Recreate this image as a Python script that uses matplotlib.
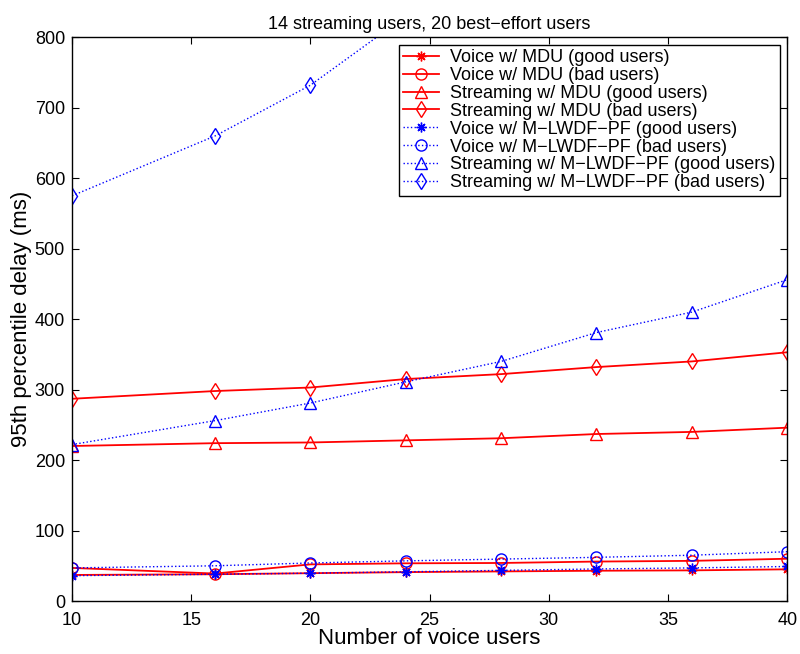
import matplotlib
matplotlib.use("Agg")
import matplotlib.pyplot as plt

x = [10, 16, 20, 24, 28, 32, 36, 40]

voice_mdu_good = [37, 38, 39.5, 41, 42, 43, 43.5, 45]
voice_mdu_bad = [47, 39, 52, 53.5, 54, 56, 57, 60]
stream_mdu_good = [220, 224, 225, 228, 231, 237, 240, 246]
stream_mdu_bad = [287, 298, 303, 315, 322, 332, 340, 353]
voice_mlwdf_good = [36, 38, 39.5, 41.5, 43.5, 45.5, 47, 49]
voice_mlwdf_bad = [47, 50, 54, 57, 59.5, 62, 65, 70]
stream_mlwdf_good = [222, 256, 281, 311, 340, 381, 410, 456]
stream_mlwdf_bad = [575, 660, 732, 830, 930, 1040, 1150, 1270]

labels = [
    "Voice w/ MDU (good users)",
    "Voice w/ MDU (bad users)",
    "Streaming w/ MDU (good users)",
    "Streaming w/ MDU (bad users)",
    "Voice w/ M\u2212LWDF\u2212PF (good users)",
    "Voice w/ M\u2212LWDF\u2212PF (bad users)",
    "Streaming w/ M\u2212LWDF\u2212PF (good users)",
    "Streaming w/ M\u2212LWDF\u2212PF (bad users)",
]

plt.rcParams['font.family'] = ['Liberation Sans', 'DejaVu Sans']

fig = plt.figure(figsize=(8, 6.54), dpi=100)
ax = fig.add_axes([0.09, 0.081, 0.894, 0.862])

series = [voice_mdu_good, voice_mdu_bad, stream_mdu_good, stream_mdu_bad,
          voice_mlwdf_good, voice_mlwdf_bad, stream_mlwdf_good, stream_mlwdf_bad]
asterisk = (8, 2, 0)
markers = [asterisk, 'o', '^', 'd', asterisk, 'o', '^', 'd']
sizes = [7, 8, 8, 8, 7, 8, 8, 8]
for i, (s, m, ms, lab) in enumerate(zip(series, markers, sizes, labels)):
    if i < 4:
        ax.plot(x, s, color='red', linestyle='-', linewidth=1.3, marker=m,
                markersize=ms, markerfacecolor='none', markeredgecolor='red',
                markeredgewidth=1.0, label=lab)
    else:
        ax.plot(x, s, color='blue', linestyle=':', linewidth=1.0, marker=m,
                markersize=ms, markerfacecolor='none', markeredgecolor='blue',
                markeredgewidth=1.0, label=lab)

ax.set_xlim(10, 40)
ax.set_ylim(0, 800)
ax.set_xticks([10, 15, 20, 25, 30, 35, 40])
ax.set_yticks(range(0, 801, 100))
ax.tick_params(direction='in', top=True, right=True, labelsize=13, length=5)
ax.tick_params(axis='x', pad=8)
ax.tick_params(axis='y', pad=5)
for sp in ax.spines.values():
    sp.set_linewidth(1.0)

ax.set_xlabel("Number of voice users", fontsize=16, labelpad=-1)
ax.set_ylabel("95th percentile delay (ms)", fontsize=16, labelpad=2)
ax.set_title("14 streaming users, 20 best\u2212effort users", fontsize=13, pad=6)

leg = ax.legend(loc='upper right', fontsize=13, frameon=True, fancybox=False,
                framealpha=1, edgecolor='black', borderaxespad=0.4,
                labelspacing=0.05, handlelength=2.0, borderpad=0.25,
                handletextpad=0.6)
leg.get_frame().set_linewidth(1.0)

fig.savefig("out.png", dpi=100)
